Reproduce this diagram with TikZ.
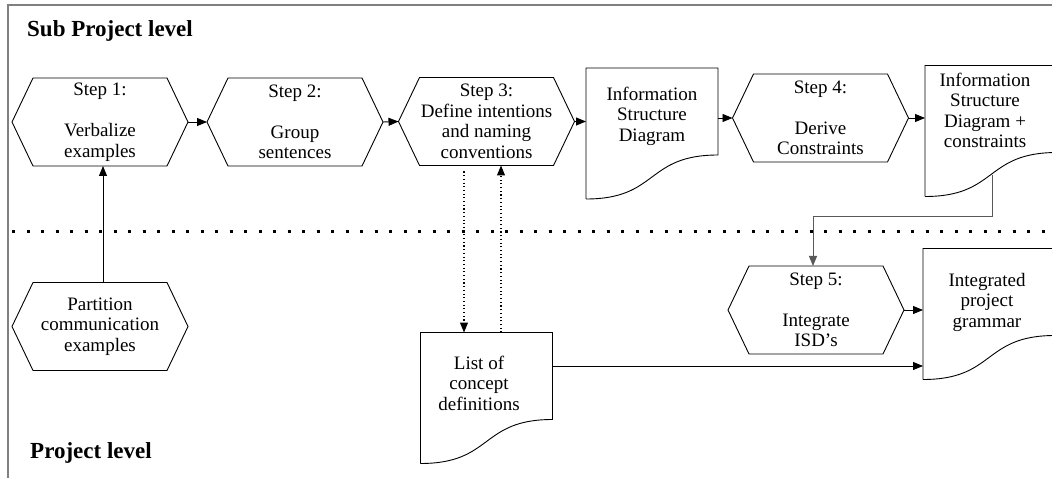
\documentclass[tikz,border=0pt]{standalone}
\usepackage{fontspec}
\setmainfont{Liberation Serif}
\usetikzlibrary{arrows.meta,calc}
\tikzset{
 ln/.style={line width=0.9pt, draw=black},
 arr/.style={ln, -{Triangle[length=10pt,width=8pt]}},
 hexbox/.style={draw=none, inner sep=0pt, outer sep=0pt, align=center, minimum width=176pt, minimum height=88pt, font=\fontsize{19}{20.5}\selectfont},
 doctext/.style={inner sep=0pt, align=center, font=\fontsize{19}{20.5}\selectfont},
 docbox/.style={draw=none, minimum width=132pt, minimum height=131pt, inner sep=0pt, outer sep=0pt},
 title/.style={anchor=base west, inner sep=0pt, font=\fontsize{23}{26}\selectfont\bfseries},
 sepline/.style={line width=3pt, dash pattern=on 3pt off 11.5pt},
 dotarr/.style={line width=1.1pt, dash pattern=on 1.1pt off 2.6pt, -{Triangle[length=10pt,width=8pt]}},
 framebox/.style={draw=black!50, line width=1.3pt},
}
\newcommand\hexdraw[1]{\draw[ln] ([xshift=21pt]#1.north west) -- ([xshift=-21pt]#1.north east) -- (#1.east) -- ([xshift=-21pt]#1.south east) -- ([xshift=21pt]#1.south west) -- (#1.west) -- cycle;}
\newcommand\docdraw[1]{\draw[ln] (#1.south west) -- (#1.north west) -- (#1.north east) -- ([yshift=44pt]#1.south east) .. controls ($(#1.south west)!0.45!(#1.south east)+(0,-44)$) and ($(#1.south west)!0.55!(#1.south east)$) .. (#1.south west);}
\begin{document}
\begin{tikzpicture}[x=1pt,y=-1pt]
\useasboundingbox (0,0) rectangle (1052,478);
% frame
\draw[framebox] (1060,5) -- (8,5) -- (8,480);
% titles
\node[title] (subt) at (27,37) {Sub Project level};
\node[title] (prjt) at (30,458) {Project level};
% separator
\draw[sepline] (12,232) -- (1052,232);
% hexagons
\node[hexbox] (s1) at (100,122) {Step 1:\\[20.5pt]Verbalize\\examples};
\node[hexbox] (s2) at (295,122) {Step 2:\\[20.5pt]Group\\sentences};
\node[hexbox] (s3) at (486.5,121.5) {Step 3:\\Define intentions\\and naming\\conventions};
\node[hexbox] (s4) at (820.5,118) {Step 4:\\[20.5pt]Derive\\Constraints};
\node[hexbox] (s5) at (816,310) {Step 5:\\[20.5pt]Integrate\\ISD's};
\node[hexbox] (part) at (100,326.5) {Partition\\communication\\examples};
\foreach \n in {s1,s2,s3,s4,s5,part} {\hexdraw{\n}}
% documents
\node[docbox] (isd) at (652,133.5) {};
\node[docbox] (isdc) at (991,131) {};
\node[docbox] (ipg) at (989,314) {};
\node[docbox] (list) at (486.5,398) {};
\foreach \n in {isd,isdc,ipg,list} {\docdraw{\n}}
\node[doctext] (isdt) at (652,116) {Information\\Structure\\Diagram};
\node[doctext] (isdct) at (985,110.5) {Information\\Structure\\Diagram +\\constraints};
\node[doctext] (ipgt) at (987,302) {Integrated\\project\\grammar};
\node[doctext] (listt) at (479,383) {List of\\concept\\definitions};
% connectors
\draw[arr] (s1.east) -- (s2.west);
\draw[arr] (s2.east) -- (s3.west);
\draw[arr] (s3.east) -- (s3.east -| isd.west);
\draw[arr] (isd.east |- s4.west) -- (s4.west);
\draw[arr] (s4.east) -- (s4.east -| isdc.west);
\draw[arr] ([xshift=3pt]part.north) -- ([xshift=3pt]s1.south);
\coordinate (isdcout) at (992,175);
\draw[arr, draw=black!65] (isdcout) -- (992,216) -| ([xshift=-3pt]s5.north);
\draw[arr] (s5.east) -- (s5.east -| ipg.west);
\draw[arr] ([yshift=32pt]list.east) -- ([yshift=32pt]list.east -| ipg.west);
\draw[dotarr] ([xshift=-22.5pt,yshift=-6pt]s3.south) -- ([xshift=-22.5pt]s3.south |- list.north);
\draw[dotarr] ([xshift=14.5pt]s3.south |- list.north) -- ([xshift=14.5pt]s3.south);
\end{tikzpicture}
\end{document}
